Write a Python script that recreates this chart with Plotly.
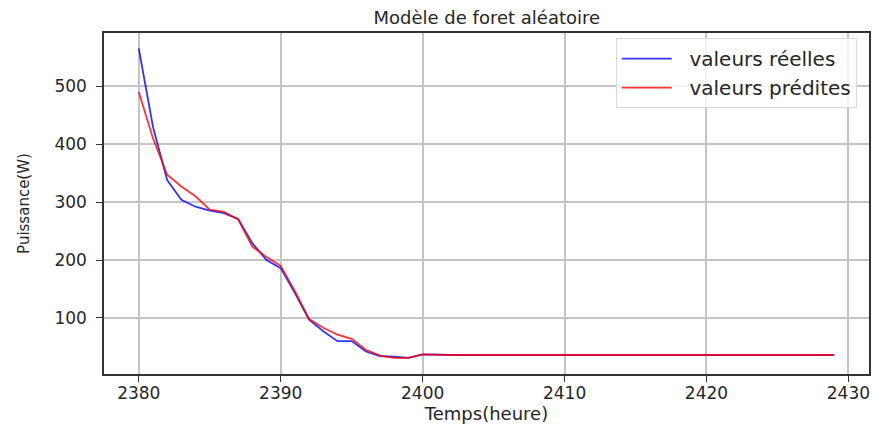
import plotly.graph_objects as go

# hours and power values
hours = list(range(2380, 2430))
reel = [565, 430, 338, 304, 292, 285, 281, 271, 229, 200,
        186, 143, 97, 77, 60, 60, 42, 34, 33, 31,
        37] + [36] * 29
predit = [490, 410, 347, 327, 310, 287, 283, 270, 223, 205,
          190, 146, 98, 83, 71, 64, 45, 35, 31, 31,
          37] + [36] * 29

font = "DejaVu Sans"
ink = "#262626"
pad = "\u00a0\u00a0"  # gap between legend line and text

fig = go.Figure()
fig.add_trace(go.Scatter(x=hours, y=reel, mode="lines", name=pad + "valeurs réelles",
                         line=dict(color="rgba(0,0,255,0.8)", width=1.8)))
fig.add_trace(go.Scatter(x=hours, y=predit, mode="lines", name=pad + "valeurs prédites",
                         line=dict(color="rgba(255,0,0,0.8)", width=1.8)))

axis = dict(showline=True, linecolor="#333", linewidth=1.5, mirror=True,
            ticks="outside", ticklen=6, tickcolor="#333", tickwidth=1.3,
            showgrid=True, gridcolor="#c4c4c4", gridwidth=1.6, zeroline=False,
            automargin=False,
            tickfont=dict(family=font, size=17, color=ink))

fig.update_layout(
    width=874, height=425,
    paper_bgcolor="white", plot_bgcolor="white",
    margin=dict(l=104, r=5, t=33, b=51),
    title=dict(text="Modèle de foret aléatoire", x=0.557, xanchor="center",
               y=0.958, yanchor="middle",
               font=dict(family=font, size=18, color=ink)),
    xaxis=dict(axis, range=[2377.55, 2431.45], tickvals=[2380, 2390, 2400, 2410, 2420, 2430],
               ticklabelstandoff=-3,
               title=dict(text="Temps(heure)", standoff=0,
                          font=dict(family=font, size=18, color=ink))),
    yaxis=dict(axis, range=[3.25, 591.75], tickvals=[100, 200, 300, 400, 500],
               ticklabelstandoff=6,
               title=dict(text="Puissance(W)", standoff=21,
                          font=dict(family=font, size=15, color=ink))),
    legend=dict(x=0.984, xanchor="right", y=0.985, yanchor="top",
                bgcolor="rgba(255,255,255,0.8)", bordercolor="#d8d8d8", borderwidth=1,
                font=dict(family=font, size=20, color=ink),
                itemwidth=50),
    showlegend=True,
)

# drop the default page margin so the figure sits at the window's corner
fig.write_html("out.html", config={"displayModeBar": False},
               post_script="document.body.style.margin='0';")
